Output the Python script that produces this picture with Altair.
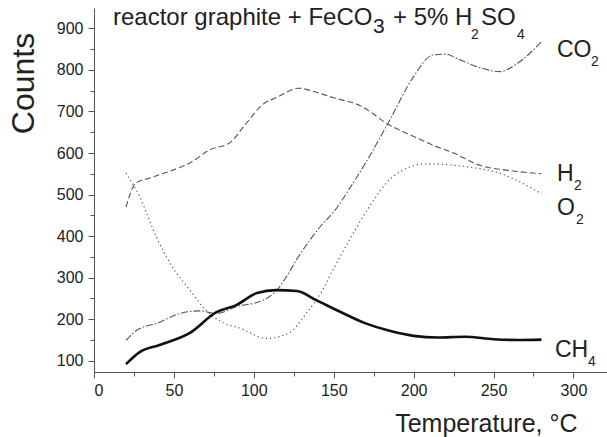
import altair as alt
import pandas as pd

FONT = "Liberation Sans"

# ---- data ----
ch4_x = [20, 28.6, 41, 60, 76.6, 89, 102, 114, 127, 139, 154, 170, 185, 200, 215, 232, 250, 265, 280]
ch4_y = [92, 121, 138, 167, 217, 234, 263, 270, 268, 246, 218, 190, 172, 160, 156, 158, 152, 150, 151]

h2_x = [20, 26, 35, 50, 60, 72, 85, 95, 105, 115, 128, 140, 150, 166, 185, 200, 212, 225, 241, 260, 280]
h2_y = [470, 527, 540, 560, 576, 607, 625, 670, 715, 735, 756, 745, 733, 715, 667, 640, 619, 600, 571, 558, 550]

o2_x = [20, 28.6, 39, 49, 60, 70, 81, 91, 108, 122, 133, 143, 150, 160, 171, 187, 208, 233, 254, 280]
o2_y = [552, 495, 398, 326, 270, 222, 191, 179, 154, 167, 215, 270, 322, 392, 463, 543, 574, 567, 551, 502]

co2_x = [20, 27, 39, 54, 66, 77, 89, 106, 114, 120, 127, 135, 142, 150, 160, 171, 185, 200, 212, 220, 227, 241, 254, 265, 280]
co2_y = [149, 174, 190, 214, 220, 214, 230, 246, 268, 300, 345, 390, 425, 458, 515, 583, 679, 784, 836, 838, 828, 806, 796, 816, 868]

x_ticks = list(range(0, 326, 25))
y_ticks = list(range(100, 951, 50))

# ---- layout helpers ----
W, H = 513, 364
x_scale = alt.Scale(domain=[0, 321], nice=False, zero=False)
y_scale = alt.Scale(domain=[73, 949], nice=False, zero=False)

x_axis = alt.Axis(
    values=x_ticks,
    labelExpr="datum.value % 50 === 0 ? datum.label : ''",
    tickSize={"condition": {"test": "datum.value % 50 === 0", "value": 6}, "value": 4},
    title="Temperature, °C",
    titleFontSize=25,
    titleX=483,
    titleY=59,
    titleAlign="right",
    titleBaseline="alphabetic",
    labelPadding=4,
)
y_axis = alt.Axis(
    values=y_ticks,
    labelExpr="datum.value % 100 === 0 && datum.value <= 900 ? datum.label : ''",
    tickSize={"condition": {"test": "datum.value % 100 === 0", "value": 6}, "value": 4},
    title="Counts",
    titleFontSize=32,
    titleAngle=270,
    titleX=-61,
    titleY=75,
    titleAlign="center",
    titleBaseline="alphabetic",
    labelPadding=5,
)

x_enc = alt.X("x:Q", scale=x_scale, axis=x_axis)
y_enc = alt.Y("y:Q", scale=y_scale, axis=y_axis)


def line(xs, ys, color, width, dash=None):
    df = pd.DataFrame({"x": xs, "y": ys})
    kw = dict(color=color, strokeWidth=width, interpolate="monotone", clip=True)
    if dash:
        kw["strokeDash"] = dash
    return alt.Chart(df).mark_line(**kw).encode(x=x_enc, y=y_enc)


def txt(s, px, py, size):
    return alt.Chart(pd.DataFrame({"t": [s]})).mark_text(
        align="left", baseline="alphabetic", font=FONT, fontSize=size, color="#222"
    ).encode(x=alt.value(px - 94), y=alt.value(py - 8), text="t:N")


layers = [
    line(h2_x, h2_y, "#555", 1.1, [6, 3]),
    line(o2_x, o2_y, "#555", 1.2, [1.2, 3]),
    line(co2_x, co2_y, "#555", 1.1, [7, 2, 1.5, 2]),
    line(ch4_x, ch4_y, "#111", 2.6),
    # title
    txt("reactor graphite + FeCO", 113, 25, 24),
    txt("3", 373, 33, 21),
    txt("+ 5% H", 393, 25, 24),
    txt("2", 471, 39, 14),
    txt("SO", 481, 25, 24),
    txt("4", 517, 39, 14),
    # series labels
    txt("CO", 557, 57, 23),
    txt("2", 591, 66, 14),
    txt("H", 557, 181, 23),
    txt("2", 574, 190, 14),
    txt("O", 557, 215, 23),
    txt("2", 576, 224, 14),
    txt("CH", 555, 357, 23),
    txt("4", 588, 366, 14),
]

chart = (
    alt.layer(*layers)
    .properties(
        width=W,
        height=H,
        autosize=alt.AutoSizeParams(type="none"),
        padding={"left": 94, "top": 8, "right": 0, "bottom": 65},
        background="white",
    )
    .configure_view(stroke=None)
    .configure_axis(
        grid=False,
        domainColor="#555",
        tickColor="#555",
        labelFont=FONT,
        labelFontSize=16,
        labelColor="#222",
        titleFont=FONT,
        titleFontWeight="normal",
        titleColor="#222",
    )
)

chart.save("out.html", embed_options={"renderer": "svg", "actions": False})
